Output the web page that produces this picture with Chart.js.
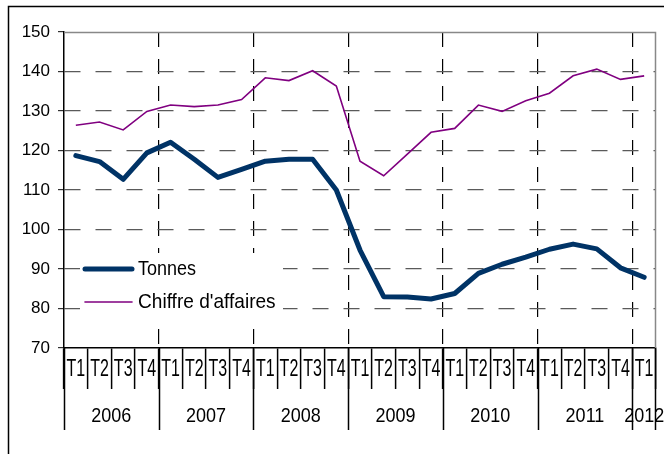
<!DOCTYPE html>
<html>
<head>
<meta charset="utf-8">
<script src="https://cdn.jsdelivr.net/npm/chart.js@4.4.1/dist/chart.umd.min.js"></script>
<style>
  body { margin: 0; background: #fff; }
  canvas { display: block; }
</style>
</head>
<body>
<canvas id="chart" width="664" height="454"></canvas>
<script>
// Indices trimestriels : tonnes et chiffre d'affaires (2006 T1 - 2012 T1)
var quarters = ['T1','T2','T3','T4','T1','T2','T3','T4','T1','T2','T3','T4',
                'T1','T2','T3','T4','T1','T2','T3','T4','T1','T2','T3','T4','T1'];
var years = ['2006', '2007', '2008', '2009', '2010', '2011', '2012'];

var tonnes = [118.7, 117.2, 112.7, 119.4, 122.1, 117.8, 113.2, 115.2, 117.3, 117.8, 117.8, 110.0,
              94.8, 83.0, 82.9, 82.4, 83.8, 88.9, 91.2, 93.0, 95.0, 96.3, 95.1, 90.3, 87.9];
var chiffreAffaires = [126.4, 127.2, 125.2, 129.9, 131.5, 131.1, 131.5, 132.9, 138.4, 137.7, 140.2, 136.3,
                       117.3, 113.6, 119.1, 124.6, 125.6, 131.5, 129.9, 132.6, 134.5, 138.9, 140.6, 138.0, 138.9];

var yMin = 70, yMax = 150, yStep = 10;

var FONT = "'Liberation Sans', Arial, sans-serif";
var NAVY = '#003366';
var PURPLE = '#800080';

// axe des x : libellés trimestres + années, séparateurs longs entre années
var axisLabels = {
    id: 'axisLabels',
    beforeDraw(chart) {
        var ctx = chart.ctx;
        ctx.save();
        ctx.fillStyle = '#fff';
        ctx.fillRect(0, 0, chart.width, chart.height);
        ctx.strokeStyle = '#000';
        ctx.lineWidth = 1.5;
        ctx.strokeRect(8.5, 6.5, 720, 520);
        ctx.restore();
    },
    afterDraw(chart) {
        var ctx = chart.ctx, x = chart.scales.x, area = chart.chartArea;
        var half = (x.getPixelForValue(1) - x.getPixelForValue(0)) / 2;
        ctx.save();
        ctx.fillStyle = '#000';
        ctx.textAlign = 'center';
        ctx.textBaseline = 'middle';
        ctx.font = '16px ' + FONT;
        quarters.forEach(function (q, i) {
            ctx.save();
            ctx.translate(x.getPixelForValue(i), area.bottom + 22);
            ctx.scale(1, 1.45);
            ctx.fillText(q, 0, 0);
            ctx.restore();
        });
        ctx.font = '18px ' + FONT;
        years.forEach(function (yr, k) {
            var first = k * 4;
            var last = Math.min(first + 3, quarters.length - 1);
            var cx = (x.getPixelForValue(first) + x.getPixelForValue(last)) / 2;
            ctx.save();
            ctx.translate(cx, area.bottom + 68);
            ctx.scale(1, 1.15);
            ctx.fillText(yr, 0, 0);
            ctx.restore();
        });
        // séparateurs d'années
        ctx.strokeStyle = '#000';
        ctx.lineWidth = 1.5;
        ctx.beginPath();
        for (var i = 0; i <= quarters.length; i += 4) {
            var bx = Math.round(x.getPixelForValue(i) - half) + 0.5;
            ctx.moveTo(bx, area.bottom);
            ctx.lineTo(bx, area.bottom + 82);
        }
        var ex = Math.round(x.getPixelForValue(quarters.length - 1) + half) - 0.5;
        ctx.moveTo(ex, area.bottom);
        ctx.lineTo(ex, area.bottom + 82);
        ctx.stroke();
        // bord haut et droit de la zone de tracé
        ctx.strokeStyle = '#888';
        ctx.lineWidth = 1.5;
        ctx.beginPath();
        ctx.moveTo(area.left, area.top + 0.5);
        ctx.lineTo(area.right - 0.5, area.top + 0.5);
        ctx.lineTo(area.right - 0.5, area.bottom);
        ctx.stroke();
        ctx.restore();
    }
};

// légende dans la zone de tracé, sur fond blanc
var insideLegend = {
    id: 'insideLegend',
    afterDatasetsDraw(chart) {
        var ctx = chart.ctx, area = chart.chartArea;
        var lx = area.left + 16, ly = area.top + 221;
        ctx.save();
        ctx.fillStyle = '#fff';
        ctx.fillRect(lx, ly, 203, 65);
        ctx.font = '18px ' + FONT;
        ctx.textBaseline = 'middle';
        ctx.fillStyle = '#000';
        chart.data.datasets.forEach(function (ds, i) {
            var yy = ly + 16 + i * 33;
            ctx.strokeStyle = ds.borderColor;
            ctx.lineWidth = ds.borderWidth;
            ctx.lineCap = 'round';
            ctx.beginPath();
            ctx.moveTo(lx + 5, yy);
            ctx.lineTo(lx + 52, yy);
            ctx.stroke();
            ctx.save();
            ctx.translate(lx + 58, yy + 1);
            ctx.scale(i === 1 ? 1.06 : 1, 1.08);
            ctx.fillText(ds.label, 0, 0);
            ctx.restore();
        });
        ctx.restore();
    }
};

var ctx = document.getElementById('chart').getContext('2d');
var chart = new Chart(ctx, {
    type: 'line',
    data: {
        labels: quarters,
        datasets: [{
            label: 'Tonnes',
            data: tonnes,
            borderColor: NAVY,
            borderWidth: 5,
            pointRadius: 0,
            tension: 0,
            borderJoinStyle: 'round',
            borderCapStyle: 'round'
        }, {
            label: "Chiffre d'affaires",
            data: chiffreAffaires,
            borderColor: PURPLE,
            borderWidth: 1.6,
            pointRadius: 0,
            tension: 0
        }]
    },
    options: {
        responsive: false,
        animation: false,
        layout: { padding: { top: 32, right: 8, left: 0, bottom: 0 } },
        plugins: {
            legend: { display: false },
            tooltip: { enabled: false }
        },
        scales: {
            x: {
                offset: true,
                afterFit: function (s) { s.height = 106; },
                ticks: { display: false },
                grid: {
                    offset: true,
                    color: function (c) {
                        return (c.index !== undefined && c.index > 0 && c.index % 4 === 0) ? '#000' : 'rgba(0,0,0,0)';
                    },
                    lineWidth: 1.2,
                    tickColor: '#000',
                    tickWidth: 1.5,
                    tickLength: 41
                },
                border: { color: '#000', width: 1.5, dash: [15, 12] }
            },
            y: {
                min: yMin,
                max: yMax,
                afterFit: function (s) { s.width = 64; },
                ticks: {
                    stepSize: yStep,
                    color: '#000',
                    padding: 8,
                    font: { family: FONT, size: 17 }
                },
                grid: {
                    color: function (c) {
                        return (c.tick && (c.tick.value === yMin || c.tick.value === yMax)) ? 'rgba(0,0,0,0)' : '#5a5a5a';
                    },
                    lineWidth: 1.2,
                    tickColor: '#333',
                    tickWidth: 1.2,
                    tickLength: 6
                },
                border: { color: '#000', width: 1.5, dash: [16, 15] }
            }
        }
    },
    plugins: [axisLabels, insideLegend]
});
</script>
</body>
</html>
